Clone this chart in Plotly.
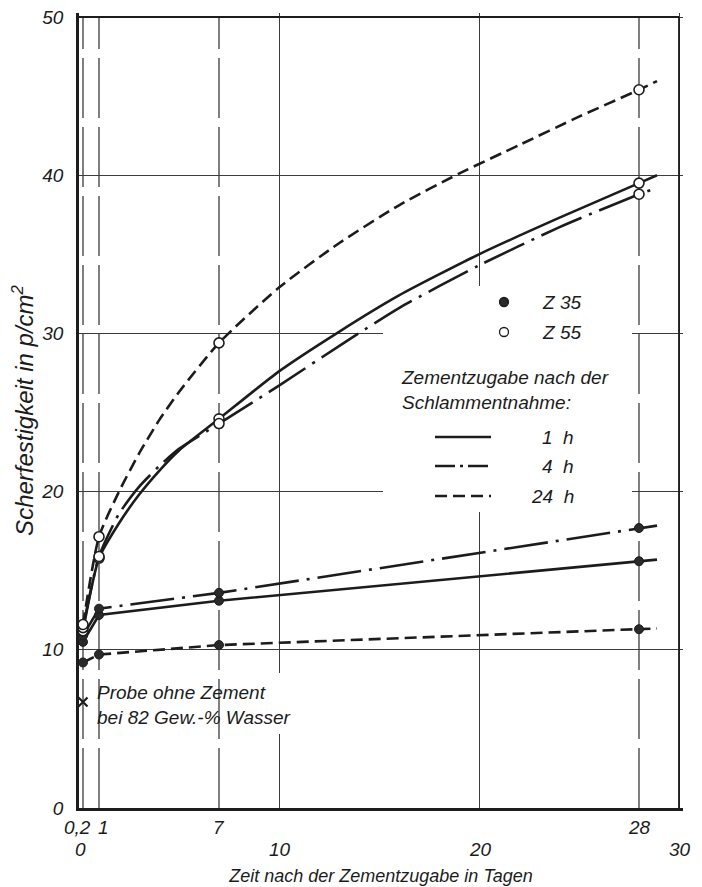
import plotly.graph_objects as go

# ---------------- data ----------------
days = [0.2, 1, 7, 28]
z55_1h = [11.2, 15.8, 24.6, 39.5]
z55_4h = [11.4, 15.9, 24.3, 38.8]
z55_24h = [11.6, 17.15, 29.4, 45.4]
z35_1h = [10.5, 12.2, 13.1, 15.6]
z35_4h = [10.9, 12.6, 13.6, 17.7]
z35_24h = [9.2, 9.7, 10.3, 11.3]
probe_day = [0.2]
probe_value = [6.7]

# fitted curves as drawn in the reference
curve_55_1h_t = [0.2, 1, 2, 3, 4, 5, 7, 10, 13, 16, 20, 24, 28, 28.9]
curve_55_1h_v = [11.2, 15.8, 18.0, 19.8, 21.3, 22.6, 24.6, 27.6, 30.1, 32.4, 35.0, 37.3, 39.5, 40.0]
curve_55_4h_t = [0.2, 1, 2, 3, 4, 5, 7, 10, 13, 16, 20, 24, 28, 28.9]
curve_55_4h_v = [11.4, 15.9, 18.6, 20.3, 21.6, 22.7, 24.3, 26.7, 29.2, 31.6, 34.3, 36.7, 38.8, 39.2]
curve_55_24h_t = [0.2, 1, 2, 3, 4, 5, 7, 10, 13, 16, 19, 22, 25, 28, 28.9]
curve_55_24h_v = [11.6, 17.15, 20.0, 22.4, 24.5, 26.3, 29.4, 32.9, 35.7, 38.1, 40.1, 41.9, 43.7, 45.4, 45.95]
curve_35_1h_t = [0.2, 1, 7, 28, 28.9]
curve_35_1h_v = [10.5, 12.2, 13.1, 15.6, 15.7]
curve_35_4h_t = [0.2, 1, 7, 28, 28.9]
curve_35_4h_v = [10.9, 12.6, 13.6, 17.7, 17.85]
curve_35_24h_t = [0.2, 1, 7, 28, 28.9]
curve_35_24h_v = [9.2, 9.7, 10.3, 11.3, 11.35]

x_ticks_main = [0, 10, 20, 30]
x_ticks_main_text = ["0", "10", "20", "30"]
x_ticks_days = [0.2, 1, 7, 28]
x_ticks_days_text = ["0,2", "1", "7", "28"]
y_ticks = [0, 10, 20, 30, 40, 50]
y_ticks_text = ["0", "10", "20", "30", "40", "50"]

# ---------------- style ----------------
BODY = 8                      # browser default page margin
W, H = 702 - BODY, 887 - BODY
X0, X1, Y0, Y1 = 0, 30, 0, 50
OX, OY = 79, 808              # page position of the origin
SX, SY = 20.0, 791 / 50       # pixels per day / per p/cm²
PAD = 4                       # frame lines sit just inside the plot area
ML, MB = OX - BODY, H + BODY - OY
MT = OY - SY * Y1 - BODY - PAD
MR = W - ML - (SX * X1 + PAD)
XR = X1 + PAD / SX
YR = Y1 + PAD / SY
FONT = "Liberation Sans"
INK = "#1c1c1c"
GRID = "#3c3c3c"


def px_x(px):
    """page pixel -> data x"""
    return (px - OX) / SX


def px_y(py):
    """page pixel -> data y"""
    return (OY - py) / SY


DASHED = "12px,6px"
DASHDOT = "44px,8px,3px,8px"
GRIDDASH = "60px,9px"

fig = go.Figure()


def curve(t, v, dash, shape):
    fig.add_trace(go.Scatter(
        x=t, y=v, mode="lines",
        line=dict(color=INK, width=2.6, dash=dash, shape=shape, smoothing=0.6),
        hoverinfo="skip", showlegend=False))


curve(curve_55_1h_t, curve_55_1h_v, "solid", "spline")
curve(curve_55_4h_t, curve_55_4h_v, DASHDOT, "spline")
curve(curve_55_24h_t, curve_55_24h_v, DASHED, "spline")
curve(curve_35_1h_t, curve_35_1h_v, "solid", "linear")
curve(curve_35_4h_t, curve_35_4h_v, DASHDOT, "linear")
curve(curve_35_24h_t, curve_35_24h_v, DASHED, "linear")

for vals in (z35_1h, z35_4h, z35_24h):
    fig.add_trace(go.Scatter(
        x=days, y=vals, mode="markers",
        marker=dict(symbol="circle", size=9, color="#2a2a2a",
                    line=dict(color=INK, width=1)),
        hoverinfo="skip", showlegend=False))
for vals in (z55_1h, z55_4h, z55_24h):
    fig.add_trace(go.Scatter(
        x=days, y=vals, mode="markers",
        marker=dict(symbol="circle", size=10, color="white",
                    line=dict(color=INK, width=1.6)),
        hoverinfo="skip", showlegend=False))
fig.add_trace(go.Scatter(
    x=probe_day, y=probe_value, mode="markers",
    marker=dict(symbol="x-thin", size=9, line=dict(color=INK, width=2.2)),
    hoverinfo="skip", showlegend=False))

shapes = []
# white areas that interrupt the grid (legend block, note)
shapes.append(dict(type="rect", layer="between", xref="x", yref="y",
                   x0=px_x(383), x1=px_x(632), y0=px_y(512), y1=px_y(286),
                   fillcolor="white", line=dict(width=0)))
shapes.append(dict(type="rect", layer="between", xref="x", yref="y",
                   x0=px_x(92), x1=px_x(322), y0=px_y(734), y1=px_y(673),
                   fillcolor="white", line=dict(width=0)))
# dashed vertical reference lines at the test days
for d in x_ticks_days:
    shapes.append(dict(type="line", layer="between", xref="x", yref="y",
                       x0=d, x1=d, y0=Y0, y1=Y1,
                       line=dict(color=GRID, width=1.3, dash=GRIDDASH)))
# frame on top and right
shapes.append(dict(type="line", layer="above", xref="x", yref="y",
                   x0=X0, x1=X1, y0=Y1, y1=Y1, line=dict(color=INK, width=2.2)))
shapes.append(dict(type="line", layer="above", xref="x", yref="y",
                   x0=X1, x1=X1, y0=Y0, y1=Y1, line=dict(color=INK, width=1.8)))

# legend keys
leg_mx = px_x(504)
rx, ry = 4.5 / SX, 4.5 / SY
for py, fill in ((302, "#2a2a2a"), (332, "white")):
    cy = px_y(py)
    shapes.append(dict(type="circle", layer="above", xref="x", yref="y",
                       x0=leg_mx - rx, x1=leg_mx + rx, y0=cy - ry, y1=cy + ry,
                       fillcolor=fill, line=dict(color=INK, width=1.3)))
for py, dash in ((437, "solid"), (466, "20px,5px,3px,5px"), (496, "12px,6px")):
    shapes.append(dict(type="line", layer="above", xref="x", yref="y",
                       x0=px_x(435), x1=px_x(491), y0=px_y(py), y1=px_y(py),
                       line=dict(color=INK, width=2.6, dash=dash)))
fig.update_layout(shapes=shapes)

tf = dict(family=FONT, size=19, color=INK, style="italic")
ann = []
ann.append(dict(x=px_x(540), y=px_y(302), xref="x", yref="y", text="Z 35",
                showarrow=False, xanchor="left", yanchor="middle", font=tf))
ann.append(dict(x=px_x(540), y=px_y(332), xref="x", yref="y", text="Z 55",
                showarrow=False, xanchor="left", yanchor="middle", font=tf))
ann.append(dict(x=px_x(399), y=px_y(390), xref="x", yref="y",
                text="Zementzugabe nach der<br>Schlammentnahme:",
                showarrow=False, xanchor="left", yanchor="middle", align="left", font=tf))
for py, txt in ((437, "1  h"), (466, "4  h"), (496, "24  h")):
    ann.append(dict(x=px_x(576), y=px_y(py), xref="x", yref="y", text=txt,
                    showarrow=False, xanchor="right", yanchor="middle", font=tf))
ann.append(dict(x=px_x(95), y=px_y(705), xref="x", yref="y",
                text="Probe ohne Zement<br>bei 82 Gew.-% Wasser",
                showarrow=False, xanchor="left", yanchor="middle", align="left", font=tf))
# two-row x tick labels
shift1 = {"0,2": -6, "1": 4, "7": 0, "28": 0}
for d, txt in zip(x_ticks_days, x_ticks_days_text):
    ann.append(dict(x=d, y=0, xref="x", yref="paper", text=txt, showarrow=False,
                    xanchor="center", yanchor="middle", yshift=-19,
                    xshift=shift1[txt], font=tf))
for d, txt in zip(x_ticks_main, x_ticks_main_text):
    ann.append(dict(x=d, y=0, xref="x", yref="paper", text=txt, showarrow=False,
                    xanchor="center", yanchor="middle", yshift=-41,
                    xshift=1, font=tf))
fig.update_layout(annotations=ann)

fig.update_xaxes(range=[X0, XR], tickvals=x_ticks_main, showticklabels=False,
                 showgrid=True, gridcolor=GRID, gridwidth=1.3, zeroline=False,
                 showline=True, linecolor=INK, linewidth=2.6, ticks="",
                 title=dict(text="Zeit nach der Zementzugabe in Tagen",
                            font=dict(family=FONT, size=18, color=INK, style="italic"),
                            standoff=60))
fig.update_yaxes(range=[Y0, YR], tickvals=y_ticks, ticktext=y_ticks_text,
                 showgrid=True, gridcolor=GRID, gridwidth=1.3, zeroline=False,
                 showline=True, linecolor=INK, linewidth=2.6, ticks="",
                 ticklabelstandoff=9, ticklabeloverflow="allow",
                 tickfont=dict(family=FONT, size=19, color=INK, style="italic"),
                 title=dict(text="Scherfestigkeit in p/cm<sup>2</sup>",
                            font=dict(family=FONT, size=24, color=INK, style="italic"),
                            standoff=6))
fig.update_layout(
    width=W, height=H, margin=dict(l=ML, r=MR, t=MT, b=MB, autoexpand=False),
    paper_bgcolor="white", plot_bgcolor="white", showlegend=False,
    font=dict(family=FONT, color=INK))
fig.write_html("out.html")
